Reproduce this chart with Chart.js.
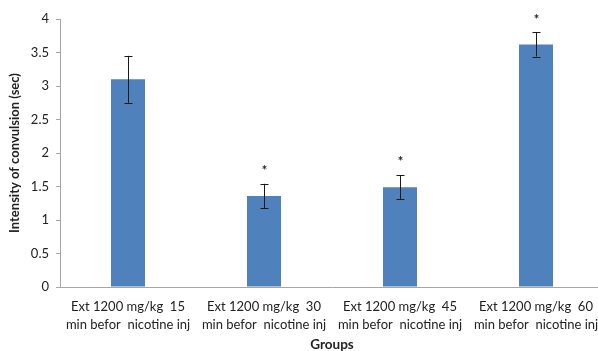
<!DOCTYPE html>
<html>
<head>
<meta charset="utf-8">
<script src="https://cdn.jsdelivr.net/npm/chart.js@4/dist/chart.umd.min.js"></script>
<style>
  html, body { margin: 0; padding: 0; background: #fff; overflow: hidden; }
  #wrap { width: 610px; height: 351px; }
</style>
</head>
<body>
<div id="wrap"><canvas id="chart" width="610" height="351"></canvas></div>
<script>
const groups = [
  ["Ext 1200 mg/kg  15", "min befor  nicotine inj"],
  ["Ext 1200 mg/kg  30", "min befor  nicotine inj"],
  ["Ext 1200 mg/kg  45", "min befor  nicotine inj"],
  ["Ext 1200 mg/kg  60", "min befor  nicotine inj"]
];
const intensity = [3.1, 1.36, 1.49, 3.62];
const errors = [0.35, 0.18, 0.18, 0.18];
const significant = [false, true, true, true];
const yTicks = [0, 0.5, 1, 1.5, 2, 2.5, 3, 3.5, 4];

const font = "Lato, 'Open Sans', sans-serif";

// draws the error bars and the significance stars from the data
const errorBars = {
  id: "errorBars",
  afterDatasetsDraw(chart) {
    const ctx = chart.ctx;
    const y = chart.scales.y;
    const meta = chart.getDatasetMeta(0);
    ctx.save();
    ctx.strokeStyle = "#1a1a1a";
    ctx.lineWidth = 1;
    meta.data.forEach(function (bar, i) {
      const x = Math.round(bar.x) + 0.5;
      const top = y.getPixelForValue(intensity[i] + errors[i]);
      const bot = y.getPixelForValue(intensity[i] - errors[i]);
      ctx.beginPath();
      ctx.moveTo(x, top); ctx.lineTo(x, bot);
      ctx.moveTo(x - 4, Math.round(top) + 0.5); ctx.lineTo(x + 4, Math.round(top) + 0.5);
      ctx.moveTo(x - 4, Math.round(bot) + 0.5); ctx.lineTo(x + 4, Math.round(bot) + 0.5);
      ctx.stroke();
      if (significant[i]) {
        ctx.fillStyle = "#222";
        ctx.font = "bold 13px " + font;
        ctx.textAlign = "center";
        ctx.textBaseline = "middle";
        ctx.fillText("*", x, top - 13);
      }
    });
    ctx.restore();
  }
};

new Chart(document.getElementById("chart").getContext("2d"), {
  type: "bar",
  data: {
    labels: groups,
    datasets: [{
      data: intensity,
      backgroundColor: "#4f81bd",
      borderWidth: 0,
      barPercentage: 0.25,
      categoryPercentage: 1
    }]
  },
  options: {
    responsive: false,
    animation: false,
    layout: { padding: { top: 19, right: 6, bottom: 0, left: 0 } },
    plugins: { legend: { display: false }, tooltip: { enabled: false } },
    scales: {
      x: {
        grid: { display: false },
        border: { display: true, color: "#a6a6a6", width: 1 },
        ticks: { color: "#222", font: { family: font, size: 13, lineHeight: 1.35 }, padding: 3, maxRotation: 0, autoSkip: false },
        title: { display: true, text: "Groups", color: "#222", font: { family: font, size: 13.5, weight: "bold", lineHeight: 1 }, padding: { top: 0, bottom: 0 } },
        afterFit(s) { s.height = 64; }
      },
      y: {
        min: 0,
        max: 4,
        afterBuildTicks(s) { s.ticks = yTicks.map(v => ({ value: v })); },
        grid: { drawOnChartArea: false, drawTicks: true, tickLength: 4, color: "#a6a6a6" },
        border: { display: true, color: "#a6a6a6", width: 1 },
        ticks: { color: "#222", font: { family: font, size: 13 }, padding: 7, callback: v => String(v) },
        title: { display: true, text: "Intensity of convulsion (sec)", color: "#222", font: { family: font, size: 13, weight: "bold" }, padding: { top: 7, bottom: 0 } },
        afterFit(s) { s.width = 60; }
      }
    }
  },
  plugins: [errorBars]
});
</script>
</body>
</html>
